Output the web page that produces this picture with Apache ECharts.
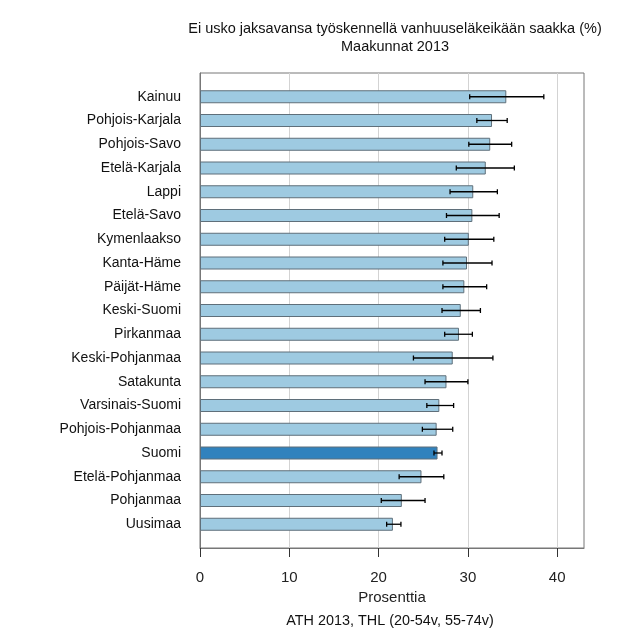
<!DOCTYPE html>
<html>
<head>
<meta charset="utf-8">
<script src="https://cdn.jsdelivr.net/npm/echarts@6/dist/echarts.min.js"></script>
<style>html,body{margin:0;padding:0;background:#fff}#c{width:640px;height:640px}</style>
</head>
<body>
<div id="c"></div>
<script>
const categories = ['Kainuu','Pohjois-Karjala','Pohjois-Savo','Etelä-Karjala','Lappi','Etelä-Savo','Kymenlaakso','Kanta-Häme','Päijät-Häme','Keski-Suomi','Pirkanmaa','Keski-Pohjanmaa','Satakunta','Varsinais-Suomi','Pohjois-Pohjanmaa','Suomi','Etelä-Pohjanmaa','Pohjanmaa','Uusimaa'];
const values = [34.3,32.7,32.5,32.0,30.6,30.5,30.1,29.9,29.6,29.2,29.0,28.3,27.6,26.8,26.5,26.6,24.8,22.6,21.6];
const lower  = [30.2,31.0,30.1,28.7,28.0,27.6,27.4,27.2,27.2,27.1,27.4,23.9,25.2,25.4,24.9,26.2,22.3,20.3,20.9];
const upper  = [38.5,34.4,34.9,35.2,33.3,33.5,32.9,32.7,32.1,31.4,30.5,32.8,30.0,28.4,28.3,27.1,27.3,25.2,22.5];
const highlight = 'Suomi';
const xTicks = [0,10,20,30,40];

const FONT = 'Liberation Sans, Arial, sans-serif';
const axisCats = [''].concat(categories).concat(['']);
const barData = [null].concat(categories.map((c,i)=>({
  value: values[i],
  itemStyle: { color: c === highlight ? '#3182bd' : '#9ecae1' }
}))).concat([null]);
const errData = categories.map((c,i)=>[lower[i], upper[i], i+1]);

const chart = echarts.init(document.getElementById('c'), null, {renderer:'canvas'});
chart.setOption({
  animation: false,
  backgroundColor: '#fff',
  textStyle: { fontFamily: FONT },
  title: {
    text: 'Ei usko jaksavansa työskennellä vanhuuseläkeikään saakka (%)\nMaakunnat 2013',
    left: 390, top: 15, textAlign: 'center',
    textStyle: { fontSize: 14.5, fontWeight: 'normal', color: '#111', lineHeight: 18, fontFamily: FONT }
  },
  graphic: [{
    type: 'text', x: 390, y: 621,
    style: { text: 'ATH 2013, THL (20-54v, 55-74v)', textAlign: 'center', textVerticalAlign: 'middle', fill: '#111', font: '14.4px ' + FONT }
  }],
  grid: { left: 200, right: 56, top: 73, bottom: 92, show: true, borderColor: '#777', borderWidth: 1, containLabel: false },
  xAxis: {
    type: 'value', min: 0, max: 43, interval: 10,
    axisLine: { show: true, lineStyle: { color: '#777' } },
    axisTick: { show: true, length: 9, customValues: xTicks, lineStyle: { color: '#333' } },
    axisLabel: { customValues: xTicks, fontSize: 15, color: '#222', margin: 22 },
    splitLine: { show: true, lineStyle: { color: '#d3d3d3' } },
    name: 'Prosenttia', nameLocation: 'middle', nameGap: 43,
    nameTextStyle: { fontSize: 15, color: '#222', verticalAlign: 'middle' }
  },
  yAxis: {
    type: 'category', data: axisCats, inverse: true, boundaryGap: false,
    axisLine: { show: true, lineStyle: { color: '#777' } },
    axisTick: { show: false },
    axisLabel: { fontSize: 14, color: '#111', margin: 19, interval: 0 },
    splitLine: { show: false }
  },
  series: [{
    type: 'bar', data: barData, barWidth: 13,
    itemStyle: { borderColor: '#5f6f7a', borderWidth: 1 }
  }, {
    type: 'custom', data: errData,
    encode: { x: [0,1], y: 2 },
    z: 5,
    renderItem: function(params, api) {
      const p1 = api.coord([api.value(0), api.value(2)]);
      const p2 = api.coord([api.value(1), api.value(2)]);
      const h = 2.5;
      const st = { stroke: '#000', lineWidth: 1.3 };
      return { type: 'group', children: [
        { type: 'line', shape: { x1: p1[0], y1: p1[1], x2: p2[0], y2: p2[1] }, style: st },
        { type: 'line', shape: { x1: p1[0], y1: p1[1]-h, x2: p1[0], y2: p1[1]+h }, style: st },
        { type: 'line', shape: { x1: p2[0], y1: p2[1]-h, x2: p2[0], y2: p2[1]+h }, style: st }
      ]};
    }
  }]
});
</script>
</body>
</html>
